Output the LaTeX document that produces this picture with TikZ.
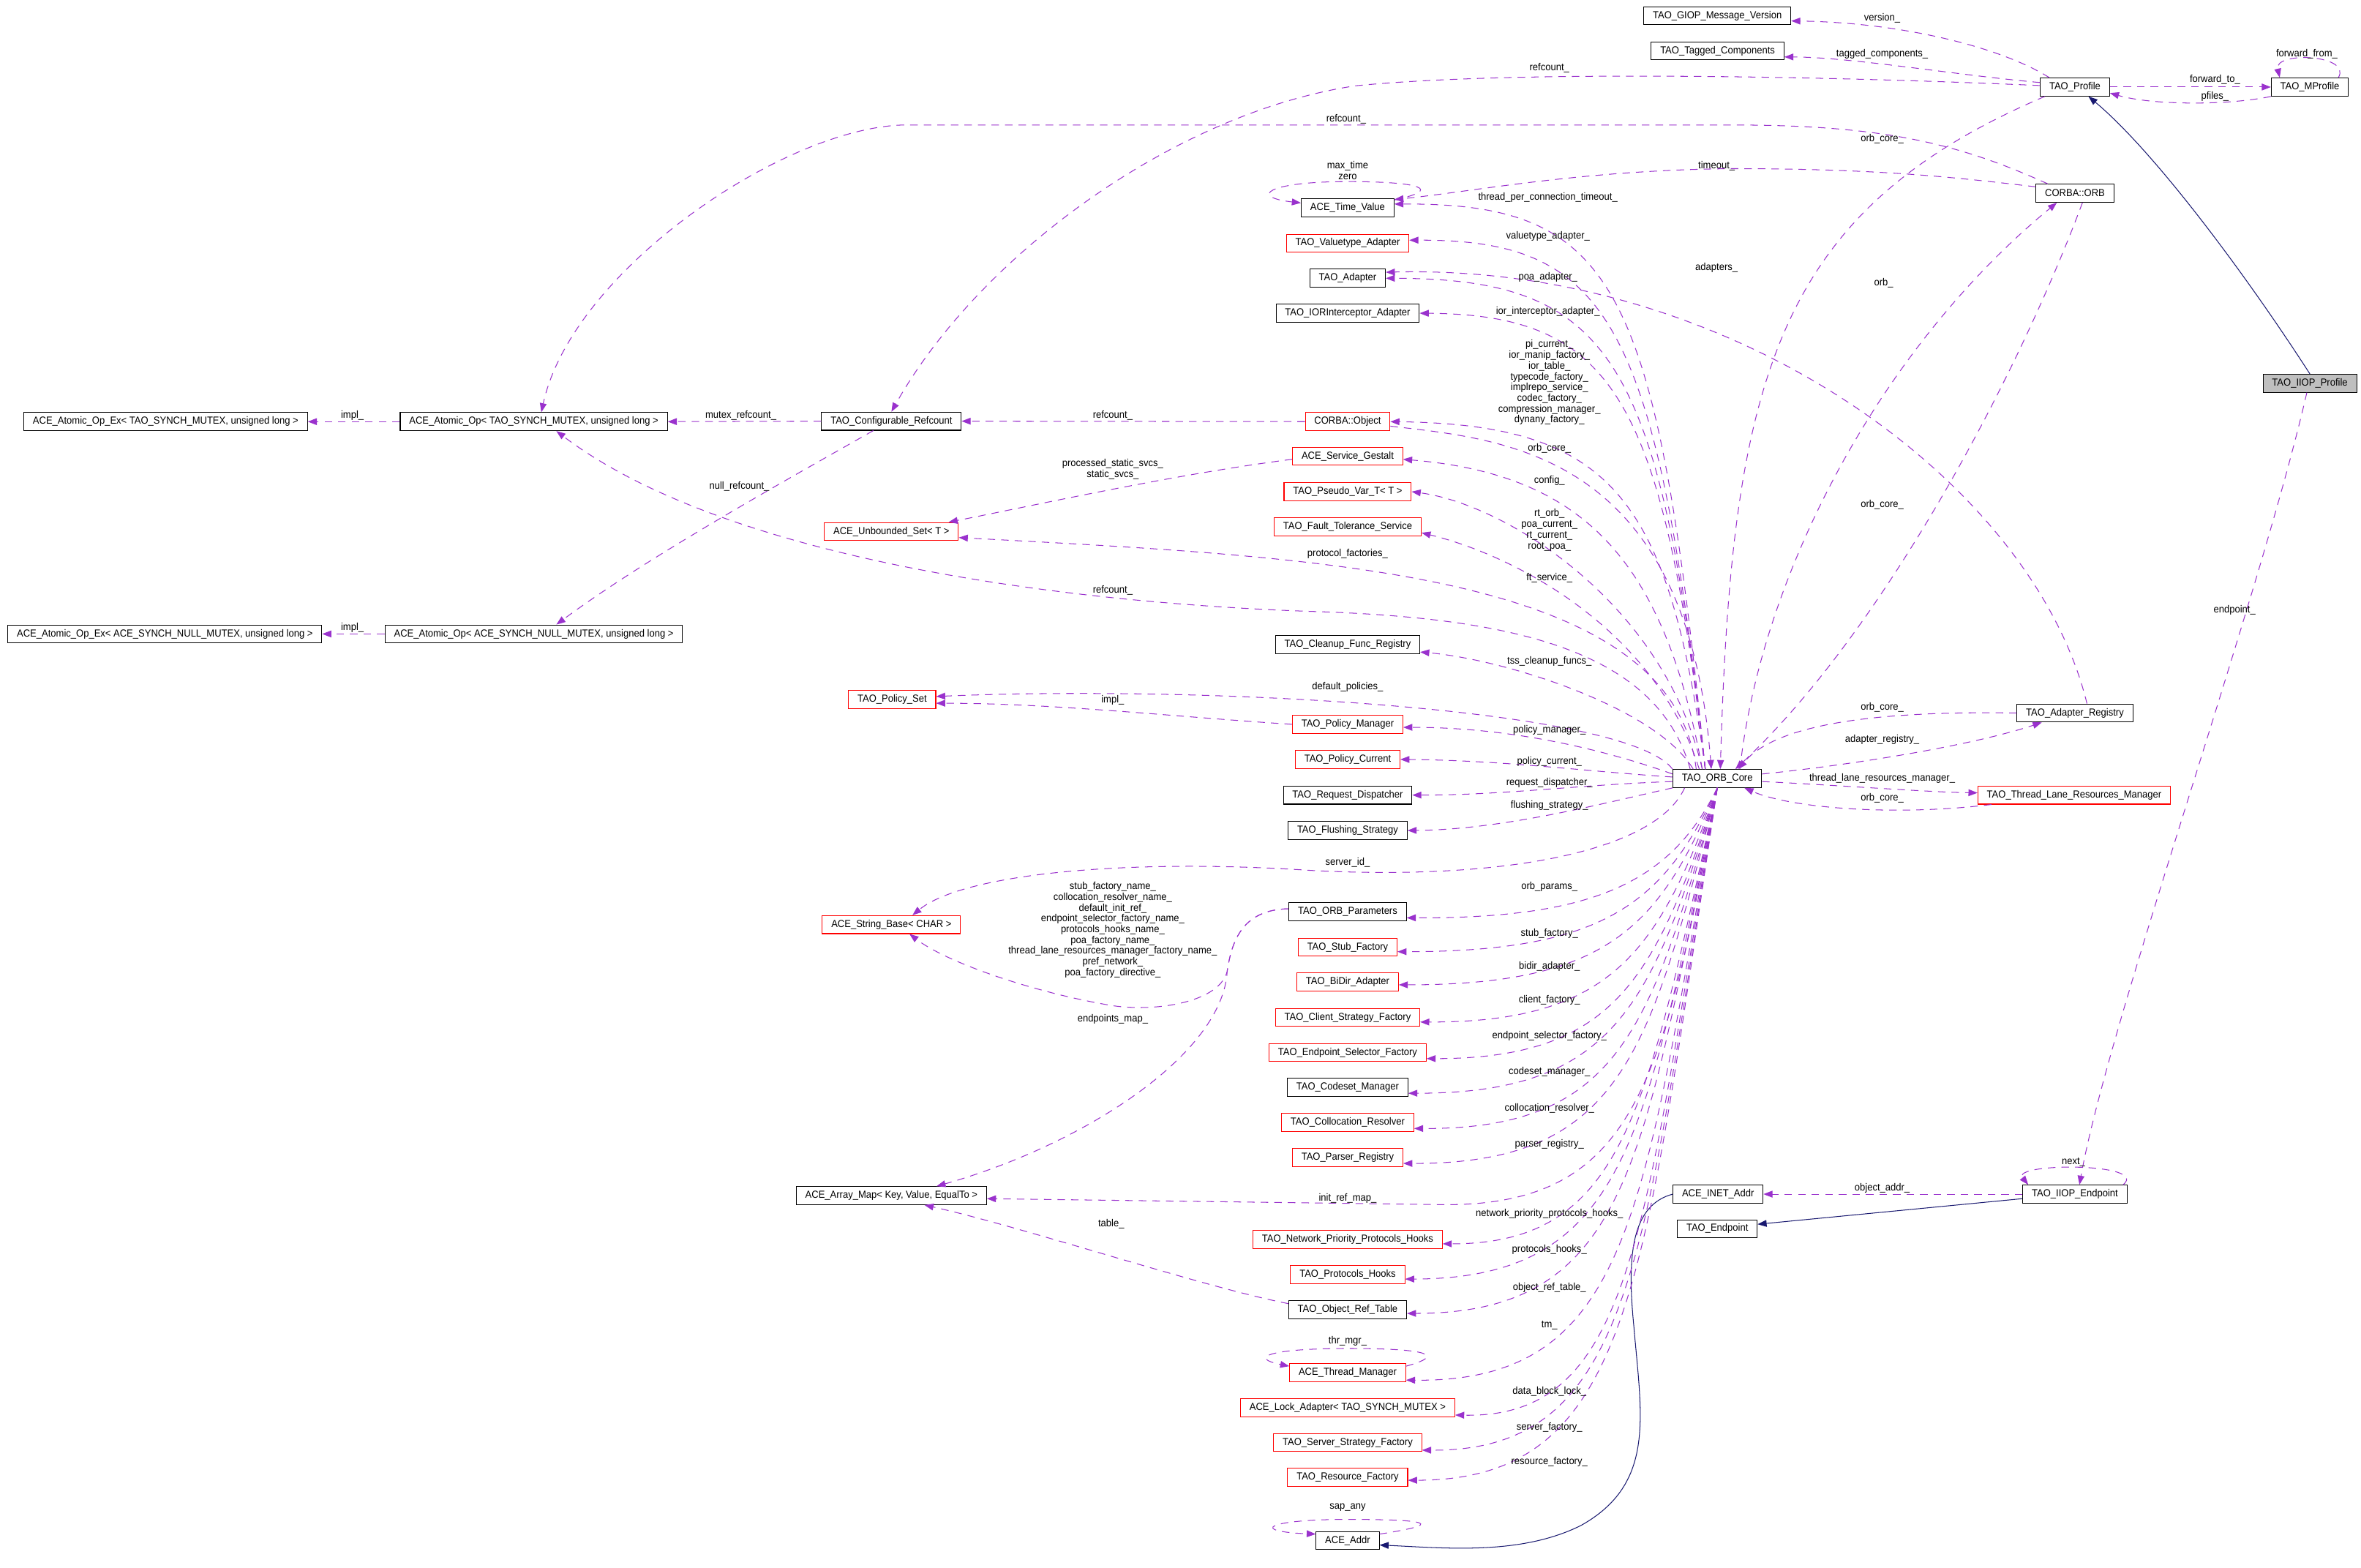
\documentclass[tikz,border=0pt]{standalone}
\usepackage{fontspec}
\setmainfont{Liberation Sans}[FakeStretch=0.93]
\usetikzlibrary{arrows.meta}
\definecolor{usec}{HTML}{9A32CD}
\definecolor{inhc}{HTML}{191970}
\definecolor{grayfill}{HTML}{BFBFBF}
\newcommand{\nfont}{\fontsize{6.8pt}{7.15pt}\selectfont}
\begin{document}
\catcode`\_=12
\begin{tikzpicture}[x=1pt,y=-1pt,
  box/.style={draw=black,line width=0.5pt,minimum height=12pt,inner xsep=6pt,inner ysep=0pt,font=\nfont},
  rbox/.style={box,draw=red},
  lab/.style={font=\nfont,inner sep=0pt,align=center},
  use/.style={draw=usec,line width=0.5pt,dash pattern=on 5pt off 4pt,-{Triangle[length=6pt,width=4.5pt]}},
  inh/.style={draw=inhc,line width=0.5pt,-{Triangle[length=6pt,width=4.5pt]}}]
\fill[white] (0,0) rectangle (1568,1041);
\useasboundingbox (0,0) rectangle (1568,1041);

% ---------- nodes ----------
\node[box] (gmv) at (1140.5,10.4) {TAO_GIOP_Message_Version};
\node[box] (tagc) at (1140.7,33.8) {TAO_Tagged_Components};
\node[box] (prof) at (1378,57.8) {TAO_Profile};
\node[box] (mprof) at (1534,57.8) {TAO_MProfile};
\node[box] (orb) at (1378,128.3) {CORBA::ORB};
\node[box,fill=grayfill] (iiopp) at (1534,254.5) {TAO_IIOP_Profile};
\node[box] (areg) at (1378,473.5) {TAO_Adapter_Registry};
\node[box] (core) at (1140.5,517) {TAO_ORB_Core};
\node[rbox] (tlrm) at (1377.5,528) {TAO_Thread_Lane_Resources_Manager};
\node[box] (inet) at (1141,793) {ACE_INET_Addr};
\node[box] (endp) at (1140.5,816) {TAO_Endpoint};
\node[box] (iiope) at (1378,793) {TAO_IIOP_Endpoint};

\node[box] (tv) at (895,138) {ACE_Time_Value};
\node[rbox] (vta) at (895,161.5) {TAO_Valuetype_Adapter};
\node[box] (ada) at (895,184.8) {TAO_Adapter};
\node[box] (iora) at (895,208) {TAO_IORInterceptor_Adapter};
\node[rbox] (cobj) at (895,280) {CORBA::Object};
\node[rbox] (gest) at (895,303) {ACE_Service_Gestalt};
\node[rbox] (pvar) at (895,326.5) {TAO_Pseudo_Var_T< T >};
\node[rbox] (fts) at (895,349.8) {TAO_Fault_Tolerance_Service};
\node[box] (cfr) at (895,428) {TAO_Cleanup_Func_Registry};
\node[rbox] (pman) at (895,481) {TAO_Policy_Manager};
\node[rbox] (pcur) at (895,504.3) {TAO_Policy_Current};
\node[box] (rdis) at (895,528) {TAO_Request_Dispatcher};
\node[box] (flus) at (895,551.5) {TAO_Flushing_Strategy};
\node[box] (opar) at (895,605.5) {TAO_ORB_Parameters};
\node[rbox] (stub) at (895,629) {TAO_Stub_Factory};
\node[rbox] (bidir) at (895,652) {TAO_BiDir_Adapter};
\node[rbox] (csf) at (895,675.7) {TAO_Client_Strategy_Factory};
\node[rbox] (esf) at (895,699) {TAO_Endpoint_Selector_Factory};
\node[box] (csm) at (895,722) {TAO_Codeset_Manager};
\node[rbox] (colr) at (895,745.4) {TAO_Collocation_Resolver};
\node[rbox] (preg) at (895,768.6) {TAO_Parser_Registry};
\node[rbox] (nph) at (895,823) {TAO_Network_Priority_Protocols_Hooks};
\node[rbox] (phk) at (895,846.4) {TAO_Protocols_Hooks};
\node[box] (ort) at (895,869.7) {TAO_Object_Ref_Table};
\node[rbox] (thm) at (895,911.5) {ACE_Thread_Manager};
\node[rbox] (lock) at (895,934.7) {ACE_Lock_Adapter< TAO_SYNCH_MUTEX >};
\node[rbox] (ssf) at (895,958) {TAO_Server_Strategy_Factory};
\node[rbox] (rf) at (895,981) {TAO_Resource_Factory};
\node[box] (addr) at (895,1023) {ACE_Addr};

\node[box] (cref) at (592,279.7) {TAO_Configurable_Refcount};
\node[rbox] (uset) at (592,353) {ACE_Unbounded_Set< T >};
\node[rbox] (pset) at (592.5,464.5) {TAO_Policy_Set};
\node[rbox] (sbase) at (592,614) {ACE_String_Base< CHAR >};
\node[box] (amap) at (592,794) {ACE_Array_Map< Key, Value, EqualTo >};
\node[box] (aop1) at (354.5,280) {ACE_Atomic_Op< TAO_SYNCH_MUTEX, unsigned long >};
\node[box] (aop2) at (354.5,421) {ACE_Atomic_Op< ACE_SYNCH_NULL_MUTEX, unsigned long >};
\node[box] (aex1) at (110,280) {ACE_Atomic_Op_Ex< TAO_SYNCH_MUTEX, unsigned long >};
\node[box] (aex2) at (109.5,421) {ACE_Atomic_Op_Ex< ACE_SYNCH_NULL_MUTEX, unsigned long >};

% ---------- right cluster edges ----------
\draw[use] ([xshift=-17pt]prof.north) .. controls (1330,32) and (1265,15) .. ([yshift=-3.5pt]gmv.east);
\draw[use] ([yshift=3pt]prof.west) .. controls (1300,50) and (1230,38) .. ([yshift=-4pt]tagc.east);
\draw[use] ([yshift=1pt]prof.west) .. controls (1200,50) and (1000,47) .. (900,57) .. controls (780,75) and (650,170) .. (cref.north);
\draw[use] (prof.east) -- (mprof.west);
\draw[use] (mprof.south west) .. controls (1480,70) and (1430,70) .. ([yshift=-4pt]prof.east);
\draw[use] ([xshift=19pt]mprof.north) .. controls (1562,36) and (1510,34) .. ([xshift=-20pt]mprof.north);
\draw[inh] (iiopp.north) .. controls (1490,180) and (1430,100) .. ([xshift=9pt]prof.south);
\draw[use] ([xshift=-2pt]iiopp.south) .. controls (1500,400) and (1400,680) .. ([xshift=3pt]iiope.north);
\draw[use] ([xshift=32pt]iiope.north) .. controls (1428,772) and (1335,772) .. ([xshift=-31pt]iiope.north);
\draw[use] (iiope.west) -- (inet.east);
\draw[inh] ([yshift=-3pt]iiope.west) -- ([yshift=3pt]endp.east);
\draw[inh] (inet.west) .. controls (1085,800) and (1080,830) .. (1085,880) .. controls (1090,940) and (1100,985) .. (1050,1013) .. controls (1010,1033) and (960,1028) .. ([yshift=-3pt]addr.east);

\draw[use] ([xshift=8pt]orb.north west) .. controls (1300,95) and (1250,83) .. (1150,83) -- (600,83) .. controls (520,85) and (380,180) .. ([xshift=5pt]aop1.north);
\draw[use] ([yshift=-2pt]orb.north west) .. controls (1300,118) and (1250,112) .. (1150,112) .. controls (1050,113) and (980,127) .. ([yshift=5.5pt]tv.east);
\draw[use] ([xshift=15pt]core.north) .. controls (1170,380) and (1250,230) .. ([xshift=-12pt]orb.south);
\draw[use] ([xshift=5pt]orb.south) .. controls (1340,250) and (1250,420) .. ([xshift=12pt]core.north);
\draw[use] ([xshift=-20pt]prof.south) .. controls (1180,140) and (1150,250) .. ([xshift=2pt]core.north);

\draw[use] (areg.west) .. controls (1250,472) and (1180,480) .. ([xshift=14pt]core.north);
\draw[use] ([yshift=3pt]core.east) .. controls (1230,508) and (1310,495) .. ([xshift=-22pt]areg.south);
\draw[use] ([yshift=-2pt]core.east) .. controls (1230,522) and (1280,526) .. ([yshift=1.5pt]tlrm.west);
\draw[use] ([xshift=-55pt]tlrm.south) .. controls (1260,542) and (1190,537) .. ([xshift=18pt]core.south);
\draw[use] ([xshift=8pt]areg.north) .. controls (1350,320) and (1150,175) .. ([yshift=4pt]ada.east);

% ---------- left cluster edges ----------
\draw[use] (aop1.west) -- (aex1.east);
\draw[use] (aop2.west) -- (aex2.east);
\draw[use] (cref.west) -- (aop1.east);
\draw[use] ([xshift=-12pt]cref.south) .. controls (520,320) and (430,370) .. ([xshift=15pt]aop2.north);
\draw[use] (cobj.west) -- (cref.east);
\draw[use] ([yshift=-2pt]gest.west) .. controls (780,315) and (690,335) .. ([xshift=38pt]uset.north);
\draw[use] (pman.west) .. controls (780,476) and (700,467) .. ([yshift=-2.5pt]pset.east);
\draw[use] ([yshift=2pt]opar.west) .. controls (825,604) and (818,625) .. (815,645) .. controls (810,665) and (770,672) .. (740,668) .. controls (690,660) and (630,640) .. ([xshift=12pt]sbase.south);
\draw[use] ([yshift=2pt]opar.west) .. controls (825,604) and (818,625) .. (815,645) .. controls (812,700) and (720,760) .. ([xshift=30pt]amap.north);
\draw[use] ([yshift=4pt]ort.west) .. controls (800,855) and (680,815) .. ([xshift=22pt]amap.south);
\draw[use] ([yshift=-3pt]cobj.east) .. controls (1000,292) and (1120,300) .. ([xshift=-4pt]core.north);

% ---------- ORB_Core fan (upper) ----------
\draw[use] ([xshift=-8pt]core.north) .. controls (1100,190) and (1075,135) .. ([yshift=2.5pt]tv.east);
\draw[use] ([xshift=-8pt]core.north) .. controls (1100,215) and (1070,159) .. ([yshift=2pt]vta.east);
\draw[use] ([xshift=-8pt]core.north) .. controls (1102,240) and (1072,185) .. (ada.east);
\draw[use] ([xshift=-8pt]core.north) .. controls (1104,265) and (1072,209) .. (iora.east);
\draw[use] ([xshift=-8pt]core.north) .. controls (1108,330) and (1070,282) .. (cobj.east);
\draw[use] ([xshift=-10pt]core.north) .. controls (1105,370) and (1050,315) .. ([yshift=-2pt]gest.east);
\draw[use] ([xshift=-10pt]core.north) .. controls (1105,400) and (1000,335) .. (pvar.east);
\draw[use] ([xshift=-12pt]core.north) .. controls (1100,420) and (1010,370) .. ([yshift=-4pt]fts.east);
\draw[use] ([xshift=-14pt]core.north) .. controls (1110,380) and (880,370) .. ([yshift=-4pt]uset.east);
\draw[use] ([xshift=-18pt]core.north) .. controls (1100,430) and (1000,410) .. (870,406) .. controls (700,400) and (480,370) .. ([xshift=15pt]aop1.south);
\draw[use] ([xshift=-16pt]core.north) .. controls (1100,470) and (1000,438) .. ([yshift=-5pt]cfr.east);
\draw[use] (core.north west) .. controls (1080,470) and (800,455) .. ([yshift=2pt]pset.east);

% ---------- ORB_Core fan (west) ----------
\draw[use] ([yshift=3pt]core.west) .. controls (1060,496) and (1000,483) .. ([yshift=-2pt]pman.east);
\draw[use] ([yshift=1pt]core.west) .. controls (1050,512) and (1000,505) .. (pcur.east);
\draw[use] ([yshift=-2pt]core.west) .. controls (1050,521) and (1000,528) .. (rdis.east);
\draw[use] (core.south west) .. controls (1070,532) and (1000,551) .. (flus.east);
\draw[use] ([xshift=8pt]core.south west) .. controls (1100,565) and (1000,585) .. (870,578) .. controls (750,570) and (640,580) .. ([xshift=14pt]sbase.north);

% ---------- ORB_Core fan (lower) ----------
\draw[use] (core.south) .. controls (1110,585) and (1060,610) .. ([yshift=-4pt]opar.east);
\draw[use] (core.south) .. controls (1105,600) and (1065,632) .. ([yshift=-3pt]stub.east);
\draw[use] (core.south) .. controls (1103,615) and (1068,654) .. ([yshift=-2pt]bidir.east);
\draw[use] (core.south) .. controls (1102,632) and (1070,679) .. ([yshift=-3pt]csf.east);
\draw[use] (core.south) .. controls (1100,650) and (1072,703) .. ([yshift=-4pt]esf.east);
\draw[use] (core.south) .. controls (1098,665) and (1074,726) .. ([yshift=-4pt]csm.east);
\draw[use] (core.south) .. controls (1097,682) and (1076,750) .. ([yshift=-4pt]colr.east);
\draw[use] (core.south) .. controls (1096,698) and (1078,773) .. ([yshift=-4pt]preg.east);
\draw[use] (core.south) .. controls (1105,720) and (1085,800) .. (960,800) -- ([yshift=-2pt]amap.east);
\draw[use] (core.south) .. controls (1094,735) and (1080,826) .. ([yshift=-3pt]nph.east);
\draw[use] (core.south) .. controls (1093,752) and (1082,849) .. ([yshift=-3pt]phk.east);
\draw[use] (core.south) .. controls (1092,768) and (1083,872) .. ([yshift=-2.5pt]ort.east);
\draw[use] (core.south) .. controls (1092,800) and (1085,918) .. ([yshift=-5pt]thm.east);
\draw[use] (core.south) .. controls (1092,816) and (1085,942) .. ([yshift=-5pt]lock.east);
\draw[use] (core.south) .. controls (1092,832) and (1086,964) .. ([yshift=-5pt]ssf.east);
\draw[use] (core.south) .. controls (1092,845) and (1086,983) .. ([yshift=-2pt]rf.east);

% ---------- self loops ----------
\draw[use] ([yshift=-1pt]tv.north east) .. controls (958,126) and (945,120.6) .. (895,120.6) .. controls (840,120.6) and (830,131) .. ([yshift=-3pt]tv.north west);
\draw[use] ([yshift=-2pt]thm.north east) .. controls (960,900) and (950,895.5) .. (895,895.5) .. controls (840,895.5) and (830,902) .. ([yshift=-2pt]thm.north west);
\draw[use] ([yshift=-2pt]addr.north east) .. controls (960,1012) and (950,1009) .. (895,1009) .. controls (840,1009) and (830,1017) .. ([yshift=-2pt]addr.north west);

% ---------- labels ----------
\node[lab] (l01) at (1250,12) {version_};
\node[lab] (l02) at (1250,36) {tagged_components_};
\node[lab] (l03) at (1029,45) {refcount_};
\node[lab] (l04) at (1532,36) {forward_from_};
\node[lab] (l05) at (1471,53) {forward_to_};
\node[lab] (l06) at (1471,64) {pfiles_};
\node[lab] (l07) at (894,79) {refcount_};
\node[lab] (l08) at (1250,92) {orb_core_};
\node[lab] (l09) at (1140,110) {timeout_};
\node[lab] (l10) at (895,113.3) {max_time\\zero};
\node[lab] (l11) at (1028,131) {thread_per_connection_timeout_};
\node[lab] (l12) at (1028,157) {valuetype_adapter_};
\node[lab] (l13) at (1140,178) {adapters_};
\node[lab] (l14) at (1028,184) {poa_adapter_};
\node[lab] (l15) at (1251,188) {orb_};
\node[lab] (l16) at (1028,207) {ior_interceptor_adapter_};
\node[lab] (l17) at (1029,254) {pi_current_\\ior_manip_factory_\\ior_table_\\typecode_factory_\\implrepo_service_\\codec_factory_\\compression_manager_\\dynany_factory_};
\node[lab] (l18) at (1029,298) {orb_core_};
\node[lab] (l19) at (1029,319) {config_};
\node[lab] (l20) at (1029,352) {rt_orb_\\poa_current_\\rt_current_\\root_poa_};
\node[lab] (l21) at (1250,335) {orb_core_};
\node[lab] (l22) at (895,368) {protocol_factories_};
\node[lab] (l23) at (1029,384) {ft_service_};
\node[lab] (l24) at (739,392) {refcount_};
\node[lab] (l25) at (1029,439) {tss_cleanup_funcs_};
\node[lab] (l26) at (895,456) {default_policies_};
\node[lab] (l27) at (739,465) {impl_};
\node[lab] (l28) at (1250,470) {orb_core_};
\node[lab] (l29) at (1029,485) {policy_manager_};
\node[lab] (l30) at (1250,491) {adapter_registry_};
\node[lab] (l31) at (1029,506) {policy_current_};
\node[lab] (l32) at (1250,517) {thread_lane_resources_manager_};
\node[lab] (l33) at (1029,520) {request_dispatcher_};
\node[lab] (l34) at (1250,530) {orb_core_};
\node[lab] (l35) at (1029,535) {flushing_strategy_};
\node[lab] (l36) at (895,573) {server_id_};
\node[lab] (l37) at (1029,589) {orb_params_};
\node[lab] (l38) at (739,617.5) {stub_factory_name_\\collocation_resolver_name_\\default_init_ref_\\endpoint_selector_factory_name_\\protocols_hooks_name_\\poa_factory_name_\\thread_lane_resources_manager_factory_name_\\pref_network_\\poa_factory_directive_};
\node[lab] (l39) at (1029,620) {stub_factory_};
\node[lab] (l40) at (1029,642) {bidir_adapter_};
\node[lab] (l41) at (1029,664) {client_factory_};
\node[lab] (l42) at (1029,688) {endpoint_selector_factory_};
\node[lab] (l43) at (1029,712) {codeset_manager_};
\node[lab] (l44) at (1029,736) {collocation_resolver_};
\node[lab] (l45) at (1029,760) {parser_registry_};
\node[lab] (l46) at (739,677) {endpoints_map_};
\node[lab] (l47) at (895,796) {init_ref_map_};
\node[lab] (l48) at (1029,806) {network_priority_protocols_hooks_};
\node[lab] (l49) at (738,813) {table_};
\node[lab] (l50) at (1029,830) {protocols_hooks_};
\node[lab] (l51) at (1029,855) {object_ref_table_};
\node[lab] (l52) at (1029,880) {tm_};
\node[lab] (l53) at (895,890.5) {thr_mgr_};
\node[lab] (l54) at (1029,924) {data_block_lock_};
\node[lab] (l55) at (1029,948) {server_factory_};
\node[lab] (l56) at (1029,971) {resource_factory_};
\node[lab] (l57) at (895,1001) {sap_any};
\node[lab] (l58) at (234,276) {impl_};
\node[lab] (l59) at (234,417) {impl_};
\node[lab] (l60) at (492,276) {mutex_refcount_};
\node[lab] (l61) at (491,323) {null_refcount_};
\node[lab] (l62) at (739,276) {refcount_};
\node[lab] (l63) at (739,311.5) {processed_static_svcs_\\static_svcs_};
\node[lab] (l64) at (1250,789) {object_addr_};
\node[lab] (l65) at (1377,772) {next_};
\node[lab] (l66) at (1484,405) {endpoint_};
\end{tikzpicture}
\end{document}
